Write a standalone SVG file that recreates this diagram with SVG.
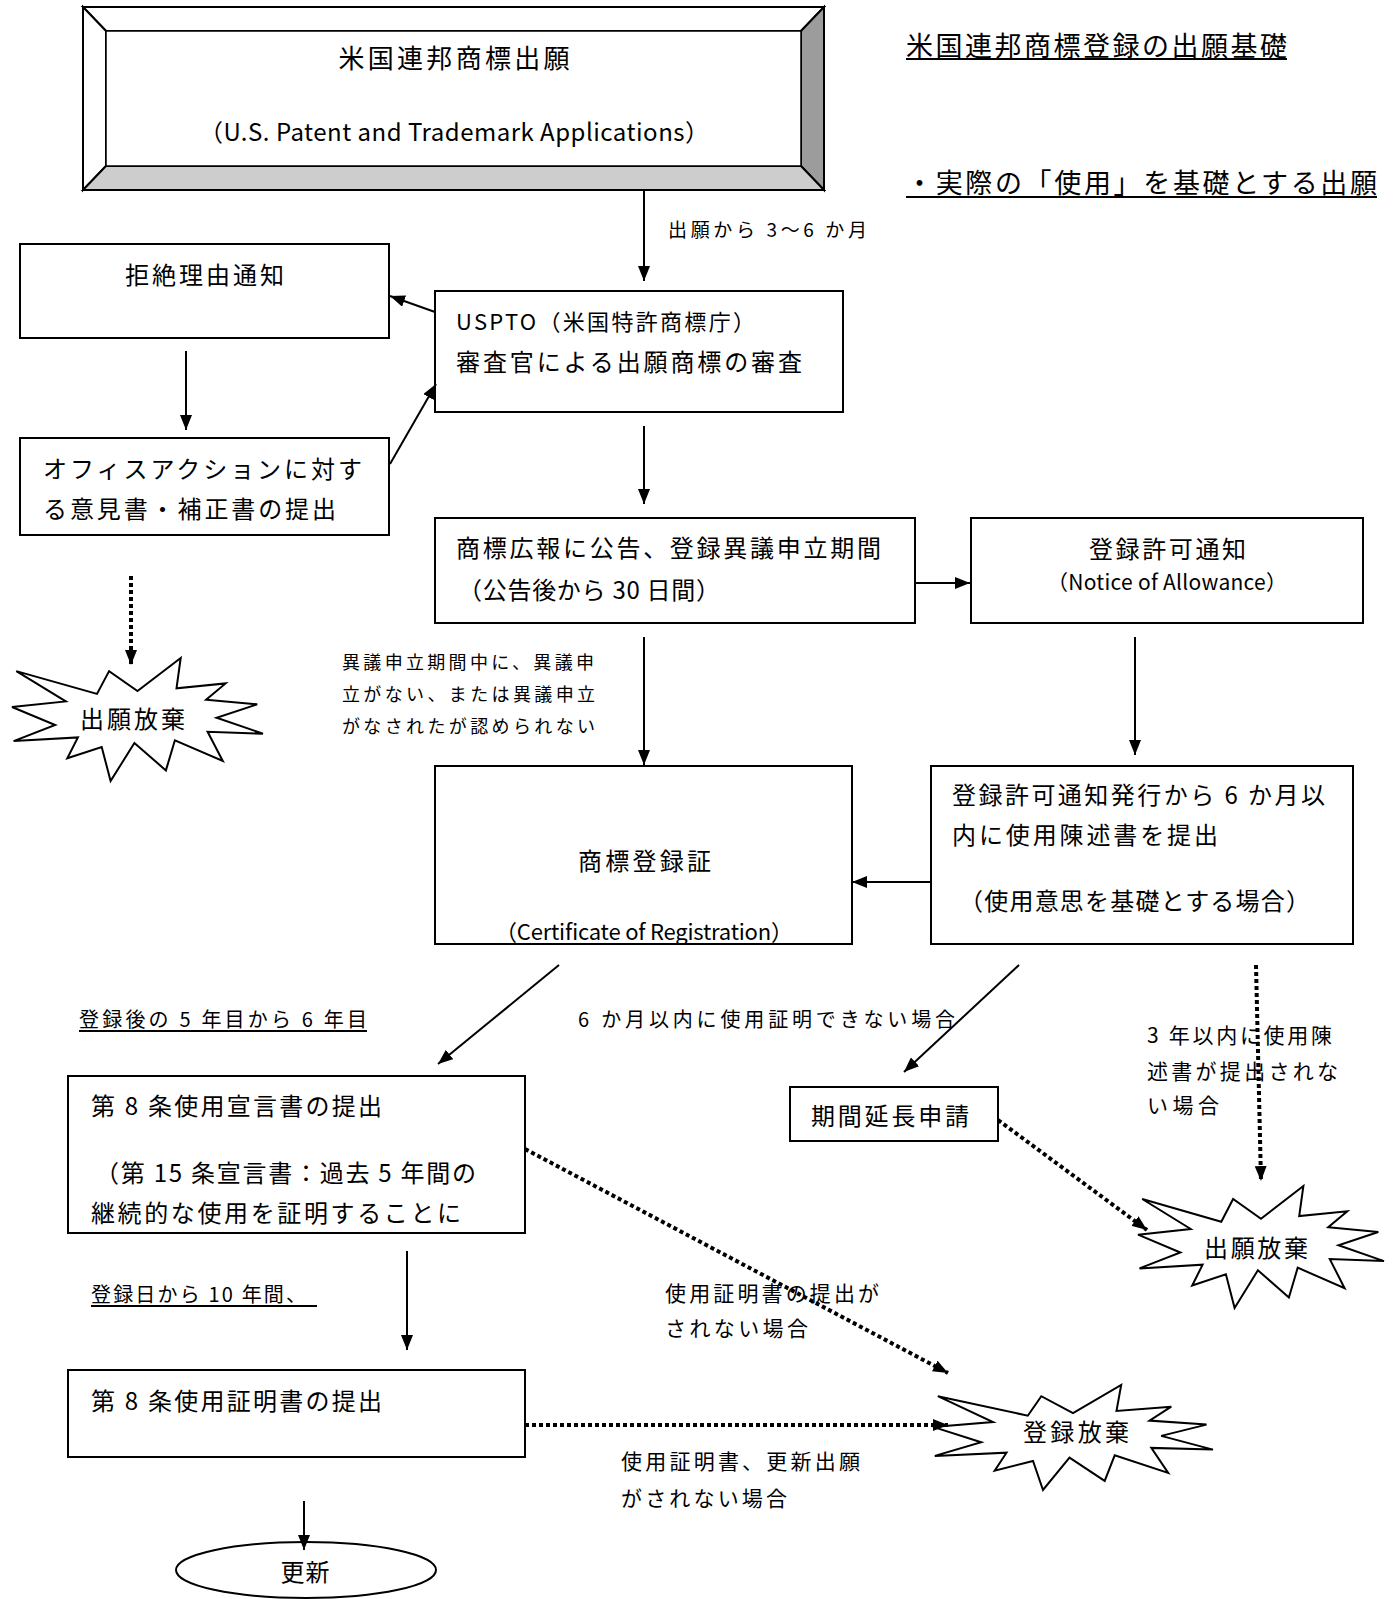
<svg xmlns="http://www.w3.org/2000/svg" width="1398" height="1599" viewBox="0 0 1398 1599">
<style>
.box{fill:#fff;stroke:#000;stroke-width:2}
.t{font-family:"Noto Sans CJK JP","Noto Sans",sans-serif;font-size:24px;fill:#000;dominant-baseline:central}
.m{text-anchor:middle}
.s18{font-size:18px}.s19{font-size:19px}.s20{font-size:20px}.s21{font-size:21px}.s22{font-size:22px}.s26{font-size:26px}.s27{font-size:27px}
.con{stroke:#000;stroke-width:2;fill:none;marker-end:url(#ah)}
.dot{stroke:#000;stroke-width:4;stroke-dasharray:4 3;fill:none;marker-end:url(#ah)}
.ul{stroke:#000;stroke-width:2}
.seal{fill:#fff;stroke:#000;stroke-width:2}
</style>
<defs>
<marker id="ah" viewBox="0 0 15 12" refX="15" refY="6" markerWidth="15" markerHeight="12" orient="auto" markerUnits="userSpaceOnUse">
<path d="M0,0 L15,6 L0,12 z" fill="#000"/>
</marker>
<clipPath id="certclip"><rect x="436" y="767" width="415" height="176"/></clipPath>
</defs>
<rect width="1398" height="1599" fill="#fff"/>

<g id="n-application">
<polygon points="83,7 824,7 801,31 106,31" fill="#fff" stroke="#000" stroke-width="2"/>
<polygon points="83,7 106,31 106,166 83,190" fill="#fff" stroke="#000" stroke-width="2"/>
<polygon points="824,7 824,190 801,166 801,31" fill="#9c9c9c" stroke="#000" stroke-width="2"/>
<polygon points="83,190 824,190 801,166 106,166" fill="#cdcdcd" stroke="#000" stroke-width="2"/>
<rect x="106" y="31" width="695" height="135" fill="#fff" stroke="#000" stroke-width="1.5"/>
<text class="t s26 m" x="454" y="56" textLength="231">米国連邦商標出願</text>
<text class="t m" x="454" y="130" textLength="510">（U.S. Patent and Trademark Applications）</text>
</g>

<g id="n-title">
<text class="t s27" x="906" y="44" textLength="381">米国連邦商標登録の出願基礎</text>
<line class="ul" x1="906" y1="59" x2="1287" y2="59"/>
<text class="t s27" x="906" y="181" textLength="471">・実際の「使用」を基礎とする出願</text>
<line class="ul" x1="906" y1="197" x2="1377" y2="197"/>
</g>

<g id="n-uspto">
<rect class="box" x="435" y="291" width="408" height="121"/>
<text class="t s22" x="456" y="320" textLength="299">USPTO（米国特許商標庁）</text>
<text class="t" x="456" y="360" textLength="346">審査官による出願商標の審査</text>
</g>

<g id="n-refusal">
<rect class="box" x="20" y="244" width="369" height="94"/>
<text class="t" x="125" y="273" textLength="159">拒絶理由通知</text>
</g>

<g id="n-response">
<rect class="box" x="20" y="438" width="369" height="97"/>
<text class="t" x="43" y="467" textLength="319">オフィスアクションに対す</text>
<text class="t" x="43" y="507" textLength="293">る意見書・補正書の提出</text>
</g>

<g id="n-abandon1">
<path class="seal" d="M137.5,691 L180.7,658 L176.5,688.3 L225.6,683.4 L206.1,699.7 L257.2,704.3 L216.6,717.7 L263,733.7 L207.6,731.7 L222.8,761 L174.9,740.3 L165.9,770.4 L134.4,743 L110.6,781 L101.7,747 L67.3,758.3 L77.9,737.4 L13.6,741.1 L55.2,725 L12,707 L65.8,701.4 L16.3,671.1 L97,693.9 L109.1,671.1 Z"/>
<text class="t" x="80" y="717" textLength="105">出願放棄</text>
</g>

<g id="n-publication">
<rect class="box" x="435" y="518" width="480" height="105"/>
<text class="t" x="456" y="546" textLength="425">商標広報に公告、登録異議申立期間</text>
<text class="t" x="458" y="588" textLength="262">（公告後から 30 日間）</text>
</g>

<g id="n-allowance">
<rect class="box" x="971" y="518" width="392" height="105"/>
<text class="t" x="1089" y="547" textLength="157">登録許可通知</text>
<text class="t s21" x="1047" y="581" textLength="240">（Notice of Allowance）</text>
</g>

<g id="n-label-opposition">
<text class="t s18" x="342" y="661" textLength="252">異議申立期間中に、異議申</text>
<text class="t s18" x="342" y="693" textLength="253">立がない、または異議申立</text>
<text class="t s18" x="342" y="725" textLength="253">がなされたが認められない</text>
</g>

<g id="n-certificate">
<rect class="box" x="435" y="766" width="417" height="178"/>
<text class="t" x="578" y="859" textLength="133">商標登録証</text>
<g clip-path="url(#certclip)">
<text class="t s22" x="495" y="930" textLength="298">（Certificate of Registration）</text>
</g>
</g>

<g id="n-sou">
<rect class="box" x="931" y="766" width="422" height="178"/>
<text class="t" x="952" y="793" textLength="373">登録許可通知発行から 6 か月以</text>
<text class="t" x="952" y="833" textLength="266">内に使用陳述書を提出</text>
<text class="t" x="959" y="899" textLength="351">（使用意思を基礎とする場合）</text>
</g>

<g id="n-labels-mid">
<text class="t s20" x="79" y="1018" textLength="288">登録後の 5 年目から 6 年目</text>
<line class="ul" x1="79" y1="1031" x2="367" y2="1031"/>
<text class="t s20" x="578" y="1018" textLength="377">6 か月以内に使用証明できない場合</text>
<text class="t s21" x="1147" y="1034" textLength="185">3 年以内に使用陳</text>
<text class="t s21" x="1147" y="1070" textLength="191">述書が提出されな</text>
<text class="t s21" x="1147" y="1104" textLength="72">い場合</text>
</g>

<g id="n-sec8decl">
<rect class="box" x="68" y="1076" width="457" height="157"/>
<text class="t" x="91" y="1104" textLength="291">第 8 条使用宣言書の提出</text>
<text class="t" x="95" y="1171" textLength="381">（第 15 条宣言書：過去 5 年間の</text>
<text class="t" x="91" y="1211" textLength="370">継続的な使用を証明することに</text>
</g>

<g id="n-extension">
<rect class="box" x="790" y="1087" width="208" height="54"/>
<text class="t" x="811" y="1114" textLength="158">期間延長申請</text>
</g>

<g id="n-abandon2">
<path class="seal" d="M1261,1218.8 L1303.4,1186 L1299.2,1216.1 L1347.3,1211.2 L1328.2,1227.3 L1378.3,1232 L1338.5,1245.2 L1384,1261.1 L1329.8,1259.1 L1344.6,1288.2 L1297.7,1267.7 L1288.9,1297.5 L1257.9,1270.3 L1234.6,1308 L1225.9,1274.3 L1192.2,1285.5 L1202.6,1264.7 L1139.5,1268.4 L1180.4,1252.5 L1138,1234.7 L1190.7,1229 L1142.2,1199 L1221.3,1221.7 L1233.1,1199 Z"/>
<text class="t" x="1204" y="1246" textLength="104">出願放棄</text>
</g>

<g id="n-labels-low">
<text class="t s21" x="665" y="1292" textLength="214">使用証明書の提出が</text>
<text class="t s21" x="665" y="1327" textLength="143">されない場合</text>
<text class="t s20" x="91" y="1293" textLength="215">登録日から 10 年間、</text>
<line class="ul" x1="91" y1="1306" x2="317" y2="1306"/>
<text class="t s21" x="621" y="1460" textLength="239">使用証明書、更新出願</text>
<text class="t s21" x="621" y="1497" textLength="166">がされない場合</text>
</g>

<g id="n-sec8use">
<rect class="box" x="68" y="1370" width="457" height="87"/>
<text class="t" x="91" y="1399" textLength="291">第 8 条使用証明書の提出</text>
</g>

<g id="n-cancel">
<path class="seal" d="M1073,1413.2 L1121.2,1385 L1116.5,1410.9 L1171.3,1406.7 L1149.5,1420.6 L1206.5,1424.6 L1161.2,1435.9 L1213,1449.6 L1151.3,1447.9 L1168.2,1473 L1114.7,1455.3 L1104.7,1480.9 L1069.5,1457.6 L1043,1490 L1033,1461 L994.7,1470.6 L1006.5,1452.7 L934.8,1455.9 L981.2,1442.2 L933,1426.9 L993,1422 L937.8,1396.2 L1027.8,1415.7 L1041.3,1396.2 Z"/>
<text class="t" x="1023" y="1430" textLength="106">登録放棄</text>
</g>

<g id="n-renewal">
<ellipse cx="306" cy="1570" rx="130" ry="28" fill="#fff" stroke="#000" stroke-width="2"/>
<text class="t m" x="305" y="1570" textLength="49">更新</text>
</g>

<g id="connectors">
<line class="con" x1="644" y1="190" x2="644" y2="281"/>
<text class="t s19" x="668" y="228" textLength="199">出願から 3〜6 か月</text>
<line class="con" x1="435" y1="312" x2="390" y2="296"/>
<line class="con" x1="186" y1="351" x2="186" y2="430"/>
<line class="con" x1="390" y1="464" x2="436" y2="384"/>
<line class="dot" x1="131" y1="576" x2="131" y2="665"/>
<line class="con" x1="644" y1="426" x2="644" y2="504"/>
<line class="con" x1="915" y1="583" x2="970" y2="583"/>
<line class="con" x1="644" y1="637" x2="644" y2="765"/>
<line class="con" x1="1135" y1="637" x2="1135" y2="755"/>
<line class="con" x1="931" y1="882" x2="852" y2="882"/>
<line class="con" x1="559" y1="965" x2="438" y2="1064"/>
<line class="con" x1="1019" y1="965" x2="904" y2="1072"/>
<line class="dot" x1="1256" y1="965" x2="1261" y2="1181"/>
<line class="dot" x1="998" y1="1120" x2="1147" y2="1230"/>
<line class="dot" x1="525" y1="1149" x2="948" y2="1373"/>
<line class="con" x1="407" y1="1251" x2="407" y2="1350"/>
<line class="dot" x1="525" y1="1425" x2="948" y2="1425"/>
<line class="con" x1="304" y1="1501" x2="304" y2="1550"/>
</g>
</svg>
